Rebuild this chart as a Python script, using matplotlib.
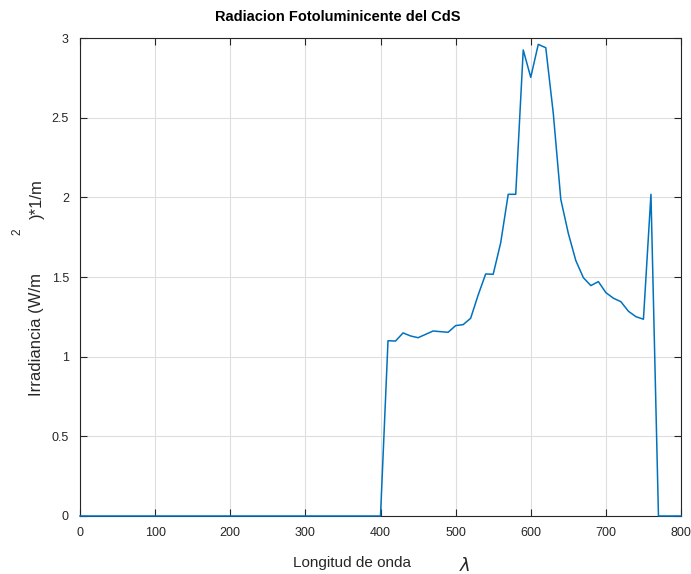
import matplotlib
matplotlib.use("Agg")
import matplotlib.pyplot as plt
import numpy as np

plt.rcParams['font.family'] = ['Liberation Sans', 'DejaVu Sans']

# Wavelength samples (nm) and measured irradiance
wavelength = np.arange(0, 801, 10)
emission_nm = [410, 420, 430, 440, 450, 460, 470, 480, 490, 500,
               510, 520, 530, 540, 550, 560, 570, 580, 590, 600,
               610, 620, 630, 640, 650, 660, 670, 680, 690, 700,
               710, 720, 730, 740, 750, 760]
emission_val = [1.10, 1.098, 1.149, 1.130, 1.119, 1.140, 1.161, 1.157, 1.153, 1.195,
                1.201, 1.241, 1.387, 1.519, 1.517, 1.715, 2.019, 2.019, 2.925, 2.753,
                2.960, 2.939, 2.527, 1.987, 1.774, 1.603, 1.496, 1.446, 1.471, 1.402,
                1.367, 1.345, 1.285, 1.251, 1.235, 2.019]

irradiance = np.zeros(len(wavelength))
for w, v in zip(emission_nm, emission_val):
    irradiance[wavelength == w] = v

xticks = [0, 100, 200, 300, 400, 500, 600, 700, 800]
yticks = [0, 0.5, 1, 1.5, 2, 2.5, 3]
ytick_labels = ['0', '0.5', '1', '1.5', '2', '2.5', '3']

W, H = 691, 574
fig = plt.figure(figsize=(W / 100, H / 100), dpi=100)
ax = fig.add_axes([80 / W, 1 - 516 / H, (681 - 80) / W, (516 - 38) / H])

ax.plot(wavelength, irradiance, color='#0072BD', lw=1.1, clip_on=False, zorder=3)

ax.set_xlim(0, 800)
ax.set_ylim(0, 3)
ax.set_xticks(xticks)
ax.set_yticks(yticks)
ax.set_yticklabels(ytick_labels)
ax.grid(True, color='#dedede', lw=0.8)
ax.set_axisbelow(True)
ax.tick_params(direction='in', length=5, width=0.8, top=True, right=True,
               labelsize=9, colors='#262626', pad=8)
for s in ax.spines.values():
    s.set_color('#262626')
    s.set_linewidth(0.8)

# Title and axis labels
fig.text(338 / W, 1 - 17 / H, 'Radiacion Fotoluminicente del CdS',
         ha='center', va='center', fontsize=10.5, fontweight='bold', color='black')
fig.text(352 / W, 1 - 563 / H, 'Longitud de onda', ha='center', va='center',
         fontsize=11, color='#262626')
fig.text(465 / W, 1 - 566 / H, r'$\lambda$', ha='center', va='center',
         fontsize=13, color='#262626')
fig.text(37 / W, 1 - 335 / H, 'Irradiancia (W/m', ha='center', va='center',
         rotation=90, fontsize=12, color='#262626')
fig.text(17 / W, 1 - 232 / H, '2', ha='center', va='center',
         rotation=90, fontsize=8.5, color='#262626')
fig.text(37 / W, 1 - 199 / H, ')*1/m', ha='center', va='center',
         rotation=90, fontsize=12, color='#262626')

fig.savefig('out.png', dpi=100)
